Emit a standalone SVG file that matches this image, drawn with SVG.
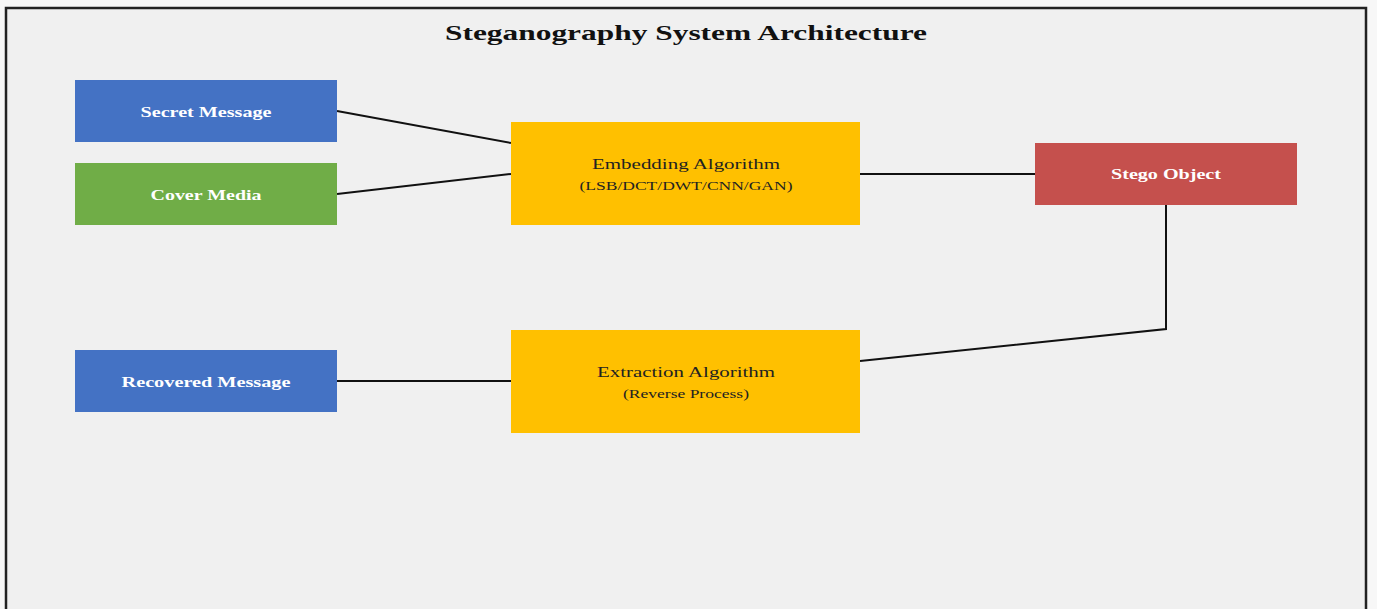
<svg xmlns="http://www.w3.org/2000/svg" width="1377" height="609" viewBox="0 0 1377 609">
  <style>
    .node-label { font-family: "Liberation Serif", "Times New Roman", serif; font-size: 14px; text-anchor: middle; }
    .light { fill: #ffffff; font-weight: bold; }
    .dark { fill: #222222; }
    .sub { font-family: "Liberation Serif", "Times New Roman", serif; font-size: 12px; text-anchor: middle; fill: #222222; }
    .title { font-family: "Liberation Serif", "Times New Roman", serif; font-size: 22px; font-weight: bold; text-anchor: middle; fill: #111111; }
    .edge { stroke: #111111; stroke-width: 2; fill: none; }
  </style>

  <!-- page background and frame -->
  <rect x="0" y="0" width="1377" height="609" fill="#f7f7f7"/>
  <rect x="6" y="8" width="1360" height="610" fill="#f0f0f0" stroke="#222222" stroke-width="2.5"/>

  <text class="title" x="686" y="40" textLength="482" lengthAdjust="spacingAndGlyphs">Steganography System Architecture</text>

  <!-- connectors -->
  <g id="connectors">
    <line class="edge" x1="337" y1="111" x2="511" y2="143"/>
    <line class="edge" x1="337" y1="194" x2="511" y2="174"/>
    <line class="edge" x1="860" y1="174" x2="1035" y2="174"/>
    <polyline class="edge" points="1166,205 1166,329 860,361"/>
    <line class="edge" x1="337" y1="381" x2="511" y2="381"/>
  </g>

  <g id="secret-message">
    <rect x="75" y="80" width="262" height="62" fill="#4472c4"/>
    <text class="node-label light" x="206" y="117" textLength="131" lengthAdjust="spacingAndGlyphs">Secret Message</text>
  </g>

  <g id="cover-media">
    <rect x="75" y="163" width="262" height="62" fill="#70ad47"/>
    <text class="node-label light" x="206" y="200" textLength="111" lengthAdjust="spacingAndGlyphs">Cover Media</text>
  </g>

  <g id="embedding-algorithm">
    <rect x="511" y="122" width="349" height="103" fill="#ffc000"/>
    <text class="node-label dark" x="686" y="169" textLength="188" lengthAdjust="spacingAndGlyphs">Embedding Algorithm</text>
    <text class="sub" x="686" y="190" textLength="213" lengthAdjust="spacingAndGlyphs">(LSB/DCT/DWT/CNN/GAN)</text>
  </g>

  <g id="stego-object">
    <rect x="1035" y="143" width="262" height="62" fill="#c5504d"/>
    <text class="node-label light" x="1166" y="179" textLength="110" lengthAdjust="spacingAndGlyphs">Stego Object</text>
  </g>

  <g id="recovered-message">
    <rect x="75" y="350" width="262" height="62" fill="#4472c4"/>
    <text class="node-label light" x="206" y="387" textLength="169" lengthAdjust="spacingAndGlyphs">Recovered Message</text>
  </g>

  <g id="extraction-algorithm">
    <rect x="511" y="330" width="349" height="103" fill="#ffc000"/>
    <text class="node-label dark" x="686" y="377" textLength="178" lengthAdjust="spacingAndGlyphs">Extraction Algorithm</text>
    <text class="sub" x="686" y="398" textLength="126" lengthAdjust="spacingAndGlyphs">(Reverse Process)</text>
  </g>
</svg>
